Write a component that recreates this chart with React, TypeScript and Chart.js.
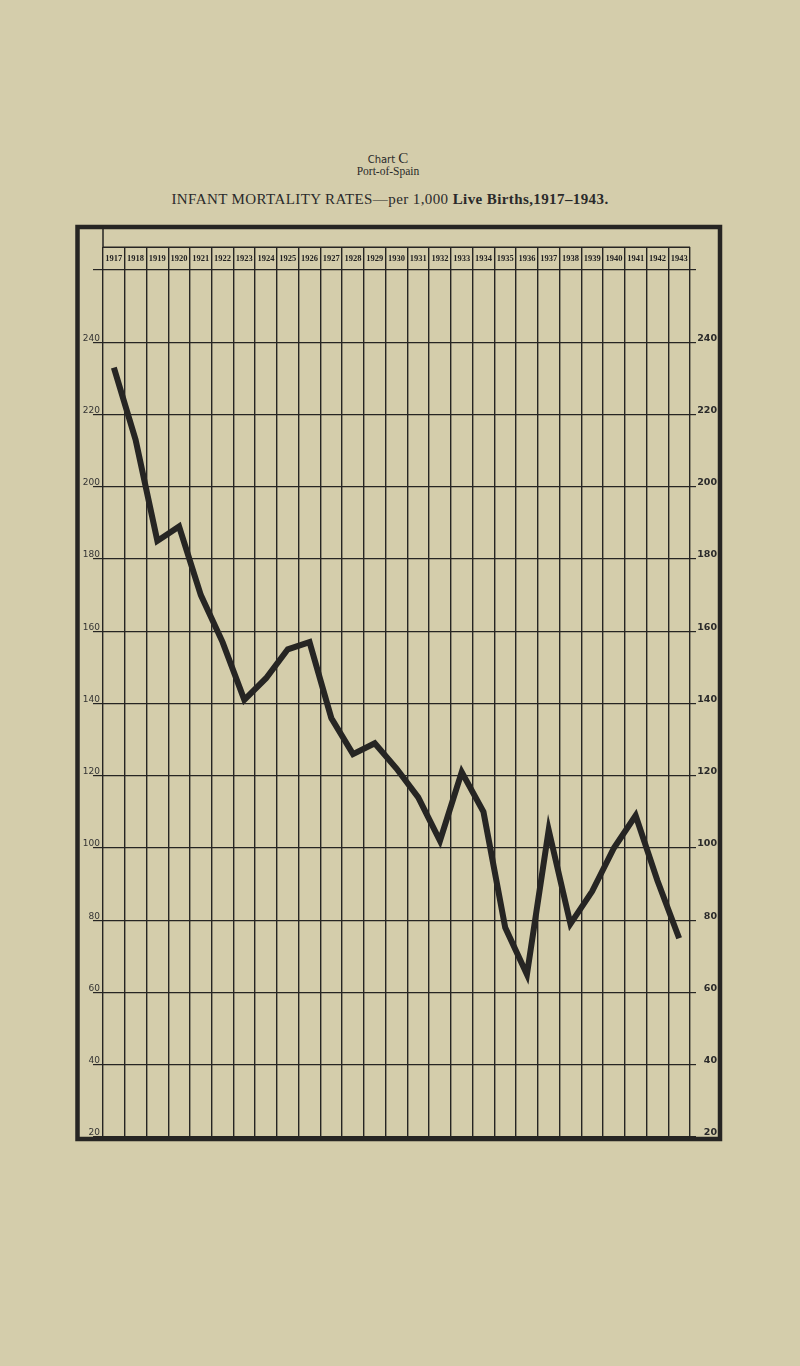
import React, { useEffect, useRef } from "react";
import { Chart, registerables } from "chart.js";

Chart.register(...registerables);

const years: string[] = [
  "1917", "1918", "1919", "1920", "1921", "1922", "1923", "1924", "1925",
  "1926", "1927", "1928", "1929", "1930", "1931", "1932", "1933", "1934",
  "1935", "1936", "1937", "1938", "1939", "1940", "1941", "1942", "1943",
];

const rates: number[] = [
  233, 213, 185, 189, 170, 157, 141, 147, 155,
  157, 136, 126, 129, 122, 114, 102, 121, 110,
  78, 65, 105, 79, 88, 100, 109, 91, 75,
];

const yTicks: number[] = [20, 40, 60, 80, 100, 120, 140, 160, 180, 200, 220, 240];

const PAPER = "#d4cdab";
const INK = "#262523";

const CANVAS_LEFT = 60;
const CANVAS_TOP = 215;
const CANVAS_W = 680;
const CANVAS_H = 940;

const framePlugin = {
  id: "frame",
  afterDraw(chart: any) {
    const ctx = chart.ctx;
    const area = chart.chartArea;
    ctx.save();
    ctx.strokeStyle = INK;
    // outer heavy frame
    ctx.lineWidth = 4.5;
    ctx.strokeRect(17.5, 12, 660 - 17.5, 924 - 12);
    // header top line
    ctx.lineWidth = 1.5;
    ctx.beginPath();
    ctx.moveTo(area.left, 32.3);
    ctx.lineTo(area.right, 32.3);
    ctx.stroke();
    // first column line up to the frame
    ctx.beginPath();
    ctx.moveTo(area.left, 14);
    ctx.lineTo(area.left, 33);
    ctx.stroke();
    ctx.restore();
  },
};

function ChartCanvas() {
  const ref = useRef<HTMLCanvasElement | null>(null);
  useEffect(() => {
    if (!ref.current) return;
    const chart = new Chart(ref.current, {
      type: "line",
      data: {
        labels: years,
        datasets: [
          {
            label: "Infant mortality rate",
            data: rates,
            borderColor: INK,
            borderWidth: 6,
            pointRadius: 0,
            tension: 0,
            fill: false,
            borderJoinStyle: "miter",
            yAxisID: "y",
          },
        ],
      },
      options: {
        responsive: false,
        animation: false,
        layout: { padding: { left: 0, right: 23, top: 0, bottom: 18 } },
        plugins: {
          legend: { display: false },
          tooltip: { enabled: false },
          title: { display: false },
        },
        scales: {
          x: {
            type: "category",
            position: "top",
            offset: true,
            afterFit: (s: any) => {
              s.height = 55;
            },
            grid: {
              offset: true,
              color: INK,
              lineWidth: 1.4,
              drawTicks: true,
              tickLength: 23,
            },
            border: { display: false },
            ticks: {
              autoSkip: false,
              maxRotation: 0,
              minRotation: 0,
              padding: -17,
              color: "#222",
              font: { family: "Liberation Serif", size: 8.5, weight: "bold" },
            },
          },
          y: {
            type: "linear",
            position: "left",
            min: 20,
            max: 260,
            afterFit: (s: any) => {
              s.width = 43;
            },
            afterBuildTicks: (s: any) => {
              s.ticks = [...yTicks, 260].map((v) => ({ value: v }));
            },
            grid: {
              color: INK,
              lineWidth: 1.2,
              drawTicks: true,
              tickLength: 10,
            },
            border: { display: false },
            ticks: {
              padding: -7,
              labelOffset: -4,
              color: "#333",
              font: { family: "DejaVu Sans", size: 9 },
              callback: (v: any) => (yTicks.includes(Number(v)) ? String(v) : ""),
            },
          },
          y2: {
            type: "linear",
            position: "right",
            min: 20,
            max: 260,
            afterFit: (s: any) => {
              s.width = 27;
            },
            afterBuildTicks: (s: any) => {
              s.ticks = [...yTicks, 260].map((v) => ({ value: v }));
            },
            grid: {
              drawOnChartArea: false,
              color: INK,
              lineWidth: 1.2,
              drawTicks: true,
              tickLength: 6,
            },
            border: { display: false },
            ticks: {
              padding: 2,
              labelOffset: -4,
              crossAlign: "far",
              color: "#2a2a2a",
              font: { family: "DejaVu Sans", size: 9.5, weight: "bold" },
              callback: (v: any) => (yTicks.includes(Number(v)) ? String(v) : ""),
            },
          },
        },
      },
      plugins: [framePlugin],
    } as any);
    return () => chart.destroy();
  }, []);
  return (
    <canvas
      ref={ref}
      width={CANVAS_W}
      height={CANVAS_H}
      style={{
        position: "absolute",
        left: CANVAS_LEFT,
        top: CANVAS_TOP,
        width: CANVAS_W,
        height: CANVAS_H,
      }}
    />
  );
}

export default function App() {
  return (
    <div
      style={{
        position: "absolute",
        left: 0,
        top: 0,
        width: 800,
        height: 1366,
        background: PAPER,
        overflow: "hidden",
        color: "#2a2a2a",
      }}
    >
      <div
        style={{
          position: "absolute",
          left: 188,
          top: 150,
          width: 400,
          textAlign: "center",
          lineHeight: "16px",
          whiteSpace: "nowrap",
        }}
      >
        <span style={{ fontFamily: "DejaVu Sans", fontSize: 10 }}>Chart </span>
        <span style={{ fontFamily: "Liberation Serif", fontSize: 15 }}>C</span>
      </div>
      <div
        style={{
          position: "absolute",
          left: 188,
          top: 166,
          width: 400,
          textAlign: "center",
          lineHeight: 1,
          fontFamily: "Liberation Serif",
          fontSize: 11.5,
          whiteSpace: "nowrap",
        }}
      >
        Port-of-Spain
      </div>
      <div
        style={{
          position: "absolute",
          left: 90,
          top: 192,
          width: 600,
          textAlign: "center",
          lineHeight: 1,
          fontFamily: "Liberation Serif",
          fontSize: 15,
          whiteSpace: "nowrap",
          letterSpacing: 0.4,
        }}
      >
        <span>INFANT MORTALITY RATES—per 1,000 </span>
        <span style={{ fontWeight: "bold" }}>Live Births,1917–1943.</span>
      </div>
      <ChartCanvas />
    </div>
  );
}
